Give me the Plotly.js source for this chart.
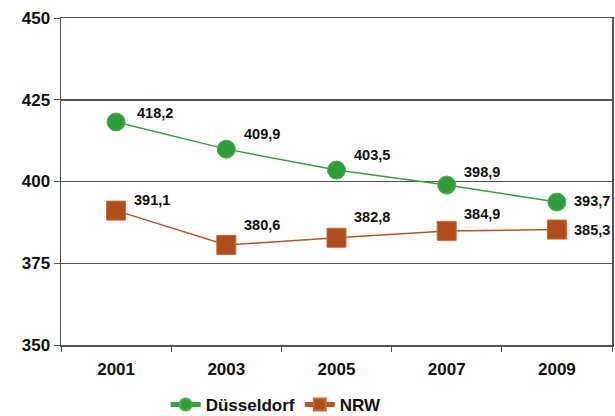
<!DOCTYPE html>
<html><head><meta charset="utf-8">
<script src="https://cdn.plot.ly/plotly-3.0.1.min.js"></script>
<style>html,body{margin:0;padding:0;background:#fff}</style>
</head><body>
<div id="chart" style="width:615px;height:416px"></div>
<script>
const years = ['2001','2003','2005','2007','2009'];
const duesseldorf = [418.2, 409.9, 403.5, 398.9, 393.7];
const nrw = [391.1, 380.6, 382.8, 384.9, 385.3];
const fmt = v => v.toFixed(1).replace('.', ',');
const font = {family: 'Liberation Sans, Arial, sans-serif', color: '#111'};
const green = '#2f9d3c', brown = '#b04d1a';
// pixel offsets of the value labels (style only)
const offD = [[19, 9], [16, 15], [15, 15], [15, 13], [15, 1]];
const offN = [[16, 11], [16, 20], [15, 21], [15, 17], [15, 0]];
const traces = [
  {x: years, y: duesseldorf, name: 'Düsseldorf', type: 'scatter', mode: 'lines+markers',
   line: {color: '#3a9e3a', width: 1.5},
   marker: {symbol: 'circle', size: 18, color: green, line: {color: '#49b049', width: 1}}},
  {x: years, y: nrw, name: 'NRW', type: 'scatter', mode: 'lines+markers',
   line: {color: '#b0562a', width: 1.5},
   marker: {symbol: 'square', size: 19, color: brown, line: {color: '#c86a3a', width: 1}}}
];
const labFont = {family: 'Liberation Sans, Arial, sans-serif', color: '#111', size: 14.5, weight: 'bold'};
const annotations = [];
years.forEach((yr, i) => {
  annotations.push({xref: 'x', yref: 'y', x: i, y: duesseldorf[i], text: fmt(duesseldorf[i]), showarrow: false,
    xanchor: 'left', yanchor: 'middle', xshift: offD[i][0], yshift: offD[i][1], font: labFont});
  annotations.push({xref: 'x', yref: 'y', x: i, y: nrw[i], text: fmt(nrw[i]), showarrow: false,
    xanchor: 'left', yanchor: 'middle', xshift: offN[i][0], yshift: offN[i][1], font: labFont});
});
const layout = {
  width: 615, height: 416,
  margin: {l: 61, r: 3, t: 18, b: 71},
  paper_bgcolor: '#fff', plot_bgcolor: '#fff',
  font: font,
  showlegend: true,
  annotations: annotations,
  legend: {orientation: 'h', x: 0.449, xref: 'container', xanchor: 'center', y: 11/416, yref: 'container', yanchor: 'middle',
           font: Object.assign({}, font, {size: 17, weight: 'bold'}), itemsizing: 'constant', itemwidth: 30, tracegroupgap: 0},
  xaxis: {type: 'category', tickson: 'boundaries', ticks: 'outside', ticklen: 5, tickcolor: '#555', automargin: false,
          showgrid: false, showline: true, linecolor: '#555', linewidth: 1.5, mirror: true, ticklabelstandoff: 8,
          tickfont: Object.assign({}, font, {size: 17, weight: 'bold'}), range: [-0.5, 4.5]},
  yaxis: {range: [350, 450], dtick: 25, tick0: 350, ticks: 'outside', ticklen: 6, tickcolor: '#555', automargin: false,
          showgrid: true, gridcolor: '#555', gridwidth: 1.5, showline: true, linecolor: '#555', linewidth: 1.5, mirror: true,
          zeroline: false, tickfont: Object.assign({}, font, {size: 17, weight: 'bold'})}
};
Plotly.newPlot('chart', traces, layout, {displayModeBar: false, staticPlot: true});
</script>
</body></html>
